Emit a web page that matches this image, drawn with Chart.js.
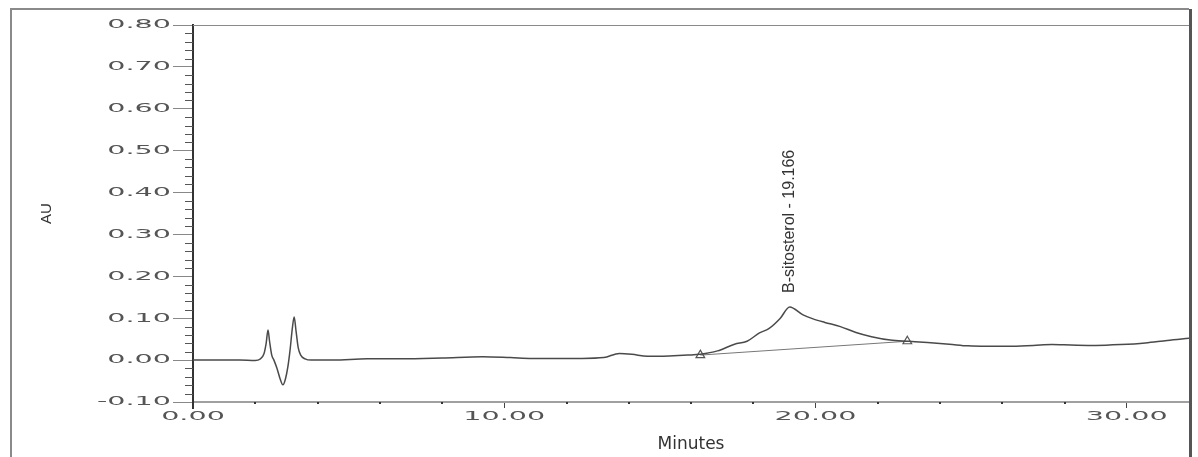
<!DOCTYPE html>
<html>
<head>
<meta charset="utf-8">
<script src="https://cdn.jsdelivr.net/npm/chart.js@4.4.1/dist/chart.umd.min.js"></script>
<style>
  html, body { margin: 0; padding: 0; background: #fff; }
  #wrap { width: 1198px; height: 457px; }
</style>
</head>
<body>
<div id="wrap"><canvas id="chromatogram"></canvas></div>
<script>
// retention time (min) and detector response (AU)
const minutes = [0, 1.5, 2.0, 2.15, 2.28, 2.35, 2.41, 2.46, 2.53, 2.6, 2.7, 2.8, 2.89, 2.97, 3.05, 3.12, 3.19, 3.25, 3.31, 3.38, 3.46, 3.6, 3.8,
  4.5, 5.6, 6.7, 8.0, 9.3, 10.2, 10.9, 11.8, 12.5, 13.2, 13.7, 14.1, 14.6, 15.3, 15.9, 16.3, 16.85, 17.4, 17.8, 18.2, 18.5, 18.87,
  19.17, 19.6, 19.9, 20.3, 20.8, 21.3, 21.8, 22.4, 23.0, 23.6, 24.3, 24.9, 25.5, 26.2, 27.0, 27.6, 28.2, 29.0, 29.8, 30.6, 31.3, 32.0]
const au = [0, 0, -0.001, 0.002, 0.015, 0.04, 0.072, 0.045, 0.012, 0, -0.02, -0.045, -0.059, -0.045, -0.015, 0.025, 0.075, 0.103, 0.07, 0.03, 0.012, 0.003, 0,
  0, 0.003, 0.003, 0.005, 0.008, 0.006, 0.004, 0.004, 0.004, 0.006, 0.016, 0.014, 0.009, 0.01, 0.012, 0.014, 0.022, 0.038, 0.045, 0.065, 0.075, 0.1,
  0.127, 0.108, 0.099, 0.09, 0.08, 0.066, 0.056, 0.048, 0.045, 0.042, 0.038, 0.034, 0.033, 0.033, 0.035, 0.037, 0.036, 0.035, 0.037, 0.041, 0.047, 0.052]

// integration baseline under the peak (start / end marks)
const baselineMin = [16.3, 22.95]
const baselineAU = [0.012, 0.045]

const peakName = 'B-sitosterol'
const peakMin = 19.166
const peakAU = 0.127

const yTickLabels = ['-0.10', '0.00', '0.10', '0.20', '0.30', '0.40', '0.50', '0.60', '0.70', '0.80']
const xTickLabels = ['0.00', '10.00', '20.00', '30.00']

// the old printout has wide, stretched axis numbers, minor ticks and a frame
const axisDecor = {
  id: 'axisDecor',
  afterDraw(chart) {
    const { ctx, chartArea: a, scales: { x, y } } = chart
    ctx.save()

    // outer frame
    ctx.strokeStyle = '#8a8a8a'
    ctx.lineWidth = 2
    ctx.beginPath()
    ctx.moveTo(11, 457); ctx.lineTo(11, 9); ctx.lineTo(a.right, 9)
    ctx.stroke()
    ctx.lineWidth = 1
    ctx.beginPath()
    ctx.moveTo(a.left, a.top + 0.5); ctx.lineTo(a.right, a.top + 0.5)
    ctx.stroke()
    ctx.strokeStyle = '#555'
    ctx.lineWidth = 3
    ctx.beginPath()
    ctx.moveTo(a.right + 1.5, 9); ctx.lineTo(a.right + 1.5, 457)
    ctx.stroke()

    // y axis runs a little past the x axis
    ctx.strokeStyle = '#333'
    ctx.lineWidth = 2
    ctx.beginPath()
    ctx.moveTo(a.left, a.bottom); ctx.lineTo(a.left, a.bottom + 7)
    ctx.stroke()

    // minor y ticks every 0.02
    ctx.strokeStyle = '#555'
    ctx.lineWidth = 1
    for (let i = -5; i <= 40; i++) {
      if (i % 5 === 0) continue
      const py = Math.round(y.getPixelForValue(i * 0.02)) + 0.5
      ctx.beginPath(); ctx.moveTo(a.left - 8, py); ctx.lineTo(a.left, py); ctx.stroke()
    }

    // minor x dots every 2 min
    ctx.fillStyle = '#333'
    for (let t = 2; t < 32; t += 2) {
      if (t % 10 === 0) continue
      ctx.fillRect(Math.round(x.getPixelForValue(t)) - 1, a.bottom, 2, 2)
    }

    // stretched tick labels
    ctx.font = '13px "DejaVu Sans"'
    ctx.fillStyle = '#555'
    ctx.textBaseline = 'middle'
    const sx = 2.2
    yTickLabels.forEach(lbl => {
      ctx.save()
      ctx.translate(a.left - 22, y.getPixelForValue(parseFloat(lbl)))
      ctx.scale(sx, 1)
      ctx.textAlign = 'right'
      ctx.fillText(lbl, 0, 0)
      ctx.restore()
    })
    xTickLabels.forEach(lbl => {
      ctx.save()
      ctx.translate(x.getPixelForValue(parseFloat(lbl)), a.bottom + 15)
      ctx.scale(sx, 1)
      ctx.textAlign = 'center'
      ctx.fillText(lbl, 0, 0)
      ctx.restore()
    })

    // peak label, vertical above the apex
    ctx.save()
    ctx.translate(x.getPixelForValue(peakMin), y.getPixelForValue(peakAU) - 14)
    ctx.rotate(-Math.PI / 2)
    ctx.font = '16px "Liberation Sans", sans-serif'
    ctx.fillStyle = '#333'
    ctx.textAlign = 'left'
    ctx.textBaseline = 'middle'
    ctx.fillText(peakName + ' - ' + peakMin.toFixed(3), 0, 0)
    ctx.restore()

    ctx.restore()
  }
}

const chart = new Chart(document.getElementById('chromatogram'), {
  type: 'line',
  data: {
    datasets: [{
      data: minutes.map((m, i) => ({ x: m, y: au[i] })),
      borderColor: '#4a4a4a',
      borderWidth: 1.5,
      pointRadius: 0,
      cubicInterpolationMode: 'monotone'
    }, {
      data: baselineMin.map((m, i) => ({ x: m, y: baselineAU[i] })),
      borderColor: '#777',
      borderWidth: 1,
      pointStyle: 'triangle',
      pointRadius: 5,
      pointBackgroundColor: 'rgba(0,0,0,0)',
      pointBorderColor: '#555',
      pointBorderWidth: 1.2
    }]
  },
  options: {
    animation: false,
    responsive: true,
    maintainAspectRatio: false,
    devicePixelRatio: 1,
    layout: { padding: { top: 25, right: 9, left: 0, bottom: 0 } },
    plugins: { legend: { display: false }, tooltip: { enabled: false } },
    scales: {
      x: {
        type: 'linear',
        min: 0,
        max: 32,
        ticks: { display: false, stepSize: 10, includeBounds: false },
        grid: { drawOnChartArea: false, tickLength: 6, color: '#444' },
        border: { color: '#a0a0a0', width: 2 },
        title: {
          display: true,
          text: 'Minutes',
          color: '#333',
          font: { family: 'DejaVu Sans', size: 17 },
          padding: { top: 0, bottom: 2 }
        },
        afterFit(s) { s.height = 55 }
      },
      y: {
        min: -0.1,
        max: 0.8,
        ticks: { display: false, stepSize: 0.1 },
        grid: { drawOnChartArea: false, tickLength: 20, color: '#888' },
        border: { color: '#333', width: 2 },
        title: {
          display: true,
          text: 'AU',
          color: '#333',
          font: { family: 'Liberation Sans', size: 15 },
          padding: { top: 38, bottom: 0 }
        },
        afterFit(s) { s.width = 193 }
      }
    }
  },
  plugins: [axisDecor]
})
</script>
</body>
</html>
